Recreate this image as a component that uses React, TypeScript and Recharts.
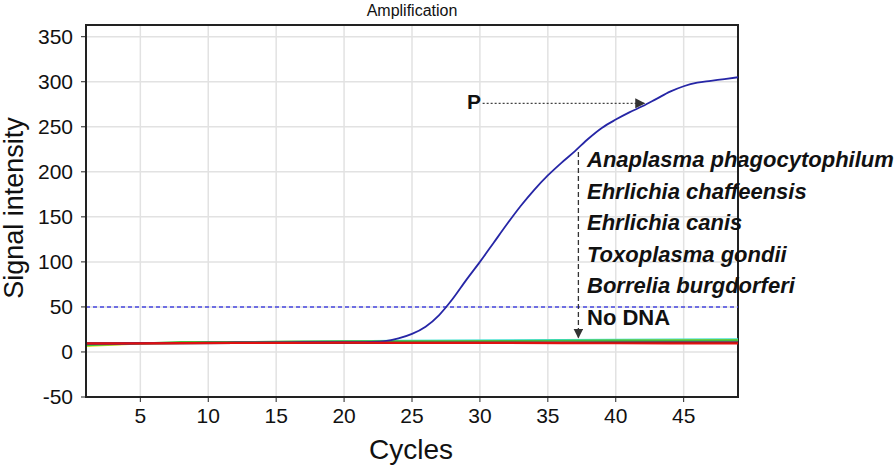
import React from 'react'
import { LineChart, Line, XAxis, YAxis, CartesianGrid, ReferenceLine, ReferenceArea } from 'recharts'

// amplification cycles and tick labels
const cycles = Array.from({ length: 49 }, (_, i) => i + 1)
const xTicks = [5, 10, 15, 20, 25, 30, 35, 40, 45]
const yTicks = [-50, 0, 50, 100, 150, 200, 250, 300, 350]

// positive sample (P), one value per cycle
const positive = [
  9.5, 9.5, 9.6, 9.7, 9.8, 9.9, 10, 10, 10.2, 10.3, 10.4, 10.5, 10.5, 10.6, 10.6, 10.7, 10.8, 10.8, 10.9, 11, 11, 11.2,
  12, 15, 20, 28, 41, 59, 80, 100, 121, 142, 162, 180, 196, 210, 223, 237, 249, 258, 266, 273, 281, 289, 295, 299, 301, 303, 305,
]

// negative samples, read at a few cycles
const negCycles = [1, 3, 5, 8, 12, 16, 20, 24, 28, 32, 36, 40, 44, 49]
const cyanVals = [9, 9.2, 9.5, 10, 10.5, 11, 12, 12.5, 12.8, 13, 13.2, 13.5, 13.8, 14]
const yellowVals = [6.5, 8, 9.5, 10, 10.4, 10.8, 11, 11.2, 11.4, 11.8, 12.2, 12.5, 12.8, 13]
const greenVals = [7.5, 8.5, 9.5, 11, 11, 11.5, 11.8, 12, 12, 12.2, 12.4, 12.6, 12.8, 13]
const purpleVals = [9, 9.2, 9.4, 9.8, 10, 10, 10, 10, 10.2, 10.3, 10.5, 10.6, 10.8, 10.8]
const darkVals = [9.5, 9.5, 9.6, 9.8, 10, 10.2, 10.3, 10.3, 10.2, 10.2, 10.2, 10.4, 10.4, 10.5]
const redVals = [9.5, 9.5, 9.6, 9.8, 10, 10.2, 10.3, 10.2, 10, 10, 9.8, 9.7, 9.6, 9.5]

const threshold = 50

const species = [
  'Anaplasma phagocytophilum',
  'Ehrlichia chaffeensis',
  'Ehrlichia canis',
  'Toxoplasma gondii',
  'Borrelia burgdorferi',
]

const negSeries = [
  { key: 'cyan', vals: cyanVals, color: '#3fe0d0' },
  { key: 'yellow', vals: yellowVals, color: '#e8e020' },
  { key: 'green', vals: greenVals, color: '#40c040' },
  { key: 'purple', vals: purpleVals, color: '#a04898' },
  { key: 'dark', vals: darkVals, color: '#303030' },
]

const data = cycles.map((c, i) => {
  const row: any = { cycle: c, positive: positive[i] }
  const j = negCycles.indexOf(c)
  if (j >= 0) {
    negSeries.forEach(s => { row[s.key] = s.vals[j] })
    row.red = redVals[j]
  }
  return row
})

const FONT = '"Liberation Sans", Arial, sans-serif'
const textLines = [167, 198.5, 230, 261.5, 293]

export default function App() {
  return (
    <div style={{ position: 'absolute', left: 0, top: 0, width: 896, height: 467, background: '#fff' }}>
      <svg width={0} height={0} style={{ position: 'absolute' }}>
        <defs>
          <marker id="arrowHead" viewBox="0 0 10 10" refX="9" refY="5" markerWidth="10" markerHeight="10" markerUnits="userSpaceOnUse" orient="auto">
            <path d="M0,0 L10,5 L0,10 z" fill="#333" />
          </marker>
        </defs>
      </svg>
      <LineChart
        width={896}
        height={467}
        data={data}
        margin={{ top: 25, right: 158, bottom: 0, left: 0 }}
        style={{ fontFamily: FONT }}
      >
        <CartesianGrid stroke="#e2e2e2" strokeWidth={1.5} />
        <XAxis
          dataKey="cycle"
          type="number"
          domain={[1, 49]}
          ticks={xTicks}
          height={70}
          tickSize={5}
          tickMargin={6}
          tick={{ fontSize: 21, fill: '#111' }}
          axisLine={{ stroke: '#222', strokeWidth: 2 }}
          tickLine={{ stroke: '#222' }}
        />
        <YAxis
          type="number"
          domain={[-50, 363]}
          ticks={yTicks}
          width={86}
          tickSize={5}
          tickMargin={8}
          tick={{ fontSize: 21, fill: '#111' }}
          axisLine={{ stroke: '#222', strokeWidth: 2 }}
          tickLine={{ stroke: '#222' }}
          allowDataOverflow
        />
        <ReferenceArea x1={1} x2={49} y1={-50} y2={363} fill="none" stroke="#222" strokeWidth={2} />
        <ReferenceLine y={threshold} stroke="#4646e0" strokeWidth={1.5} strokeDasharray="4 3" />
        {negSeries.map(s => (
          <Line
            key={s.key}
            dataKey={s.key}
            stroke={s.color}
            strokeWidth={2}
            dot={false}
            connectNulls
            isAnimationActive={false}
          />
        ))}
        <Line type="monotone" dataKey="positive" stroke="#2626a6" strokeWidth={1.8} dot={false} isAnimationActive={false} />
        <Line dataKey="red" stroke="#e01010" strokeWidth={2.2} dot={false} connectNulls isAnimationActive={false} />
        <ReferenceLine
          segment={[{ x: 30.2, y: 276 }, { x: 42.1, y: 276 }]}
          stroke="#444"
          strokeWidth={1.2}
          strokeDasharray="2 2"
          markerEnd="url(#arrowHead)"
        />
        <ReferenceLine
          segment={[{ x: 37.25, y: 222 }, { x: 37.25, y: 16 }]}
          stroke="#333"
          strokeWidth={1.3}
          strokeDasharray="5 3"
          markerEnd="url(#arrowHead)"
        />
      </LineChart>
      <svg width={896} height={467} style={{ position: 'absolute', left: 0, top: 0, pointerEvents: 'none', fontFamily: FONT }}>
        <text x={412} y={16} textAnchor="middle" fontSize={16} fill="#111">Amplification</text>
        <text x={23} y={208} textAnchor="middle" fontSize={27} fill="#111" transform="rotate(-90 23 208)">Signal intensity</text>
        <text x={411} y={459} textAnchor="middle" fontSize={28} fill="#111">Cycles</text>
        <text x={467} y={109} fontSize={21} fontWeight="bold" fill="#111">P</text>
        {species.map((s, i) => (
          <text key={s} x={587} y={textLines[i]} fontSize={22} fontWeight="bold" fontStyle="italic" fill="#111">{s}</text>
        ))}
        <text x={587} y={324.5} fontSize={22} fontWeight="bold" fill="#111">No DNA</text>
      </svg>
    </div>
  )
}
